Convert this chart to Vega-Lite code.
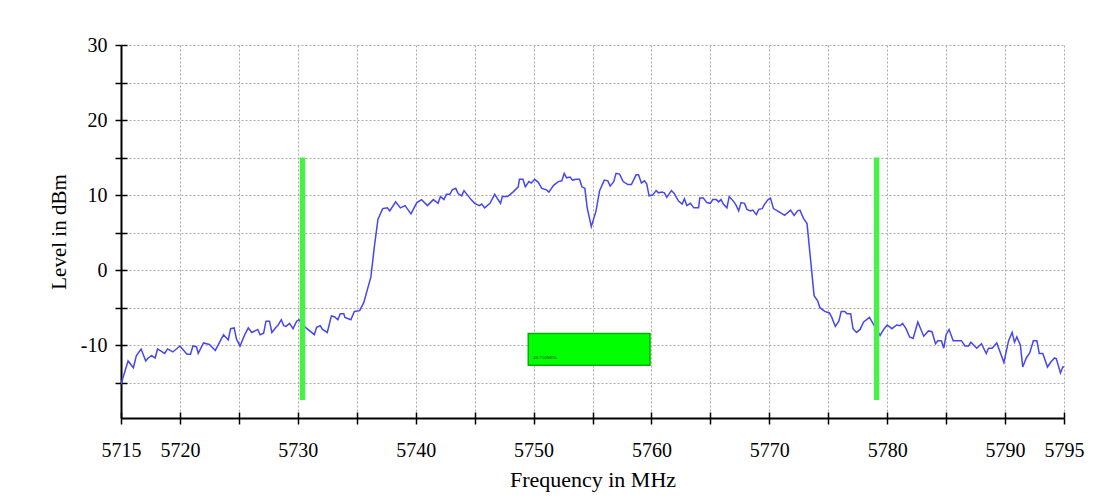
{
  "$schema": "https://vega.github.io/schema/vega-lite/v6.json",
  "width": 943,
  "height": 373,
  "autosize": "none",
  "padding": {"left": 121, "top": 45, "right": 37, "bottom": 78},
  "background": "white",
  "config": {
    "view": {"stroke": null},
    "font": "Liberation Serif",
    "axis": {"labelFont": "Liberation Serif", "titleFont": "Liberation Serif", "labelColor": "black", "titleColor": "black", "titleFontWeight": "normal"}
  },
  "datasets": {
    "trace": [
      {"f":5715.0,"v":-15.2},{"f":5715.6,"v":-12.1},{"f":5716.05,"v":-13.0},{"f":5716.3,"v":-11.4},{"f":5716.7,"v":-10.5},{"f":5717.1,"v":-12.1},{"f":5717.3,"v":-11.7},{"f":5717.6,"v":-11.4},{"f":5717.9,"v":-11.7},{"f":5718.1,"v":-10.5},{"f":5718.4,"v":-10.8},{"f":5718.7,"v":-11.1},{"f":5718.95,"v":-10.5},{"f":5719.4,"v":-10.9},{"f":5720.0,"v":-10.1},{"f":5720.6,"v":-11.2},{"f":5720.9,"v":-11.2},{"f":5721.1,"v":-10.1},{"f":5721.4,"v":-10.2},{"f":5721.55,"v":-11.1},{"f":5722.0,"v":-9.7},{"f":5722.5,"v":-9.9},{"f":5723.0,"v":-10.7},{"f":5723.7,"v":-8.6},{"f":5724.1,"v":-9.3},{"f":5724.3,"v":-7.8},{"f":5724.6,"v":-7.7},{"f":5724.8,"v":-9.2},{"f":5725.1,"v":-10.1},{"f":5725.5,"v":-8.6},{"f":5725.8,"v":-7.7},{"f":5726.1,"v":-8.3},{"f":5726.6,"v":-7.9},{"f":5726.8,"v":-8.6},{"f":5727.1,"v":-8.4},{"f":5727.3,"v":-6.8},{"f":5727.6,"v":-6.8},{"f":5727.8,"v":-8.3},{"f":5728.2,"v":-7.5},{"f":5728.3,"v":-7.4},{"f":5728.6,"v":-6.6},{"f":5728.8,"v":-7.4},{"f":5729.0,"v":-7.5},{"f":5729.3,"v":-7.1},{"f":5729.6,"v":-7.8},{"f":5729.9,"v":-6.8},{"f":5730.1,"v":-6.6},{"f":5730.4,"v":-7.2},{"f":5730.7,"v":-7.7},{"f":5731.4,"v":-8.6},{"f":5731.6,"v":-7.6},{"f":5731.9,"v":-7.4},{"f":5732.1,"v":-7.9},{"f":5732.5,"v":-8.3},{"f":5732.85,"v":-6.1},{"f":5733.1,"v":-6.2},{"f":5733.4,"v":-6.6},{"f":5733.6,"v":-5.8},{"f":5733.9,"v":-5.8},{"f":5734.0,"v":-6.3},{"f":5734.5,"v":-6.6},{"f":5734.8,"v":-5.5},{"f":5735.25,"v":-5.4},{"f":5735.6,"v":-4.3},{"f":5735.9,"v":-2.6},{"f":5736.2,"v":-0.9},{"f":5736.5,"v":3.2},{"f":5736.8,"v":6.8},{"f":5737.2,"v":8.2},{"f":5737.6,"v":8.3},{"f":5737.8,"v":7.9},{"f":5738.3,"v":9.1},{"f":5738.7,"v":8.3},{"f":5739.1,"v":8.6},{"f":5739.6,"v":7.5},{"f":5740.1,"v":9.0},{"f":5740.5,"v":9.4},{"f":5741.0,"v":8.6},
      {"f":5741.5,"v":9.4},{"f":5741.9,"v":8.9},{"f":5742.1,"v":9.8},{"f":5742.4,"v":9.4},{"f":5742.6,"v":10.1},{"f":5742.9,"v":10.1},{"f":5743.1,"v":10.7},{"f":5743.4,"v":10.9},{"f":5743.6,"v":10.2},{"f":5743.9,"v":9.9},{"f":5744.1,"v":10.6},{"f":5744.35,"v":10.1},{"f":5744.7,"v":9.4},{"f":5745.0,"v":8.9},{"f":5745.4,"v":8.6},{"f":5745.6,"v":8.8},{"f":5745.85,"v":8.3},{"f":5746.3,"v":8.9},{"f":5746.7,"v":10.1},{"f":5747.2,"v":8.9},{"f":5747.35,"v":9.8},{"f":5747.8,"v":9.8},{"f":5748.25,"v":10.4},{"f":5748.7,"v":11.1},{"f":5748.8,"v":12.1},{"f":5749.1,"v":12.1},{"f":5749.3,"v":11.1},{"f":5749.6,"v":11.8},{"f":5749.8,"v":11.6},{"f":5750.1,"v":12.1},{"f":5750.4,"v":11.7},{"f":5750.7,"v":10.9},{"f":5751.1,"v":10.7},{"f":5751.3,"v":10.4},{"f":5751.7,"v":11.3},{"f":5752.1,"v":11.8},{"f":5752.4,"v":11.9},{"f":5752.6,"v":12.9},{"f":5752.8,"v":12.3},{"f":5753.1,"v":12.4},{"f":5753.3,"v":12.0},{"f":5753.6,"v":12.1},{"f":5753.9,"v":12.1},{"f":5754.1,"v":11.1},{"f":5754.35,"v":10.9},{"f":5754.55,"v":8.3},{"f":5754.9,"v":5.8},{"f":5755.3,"v":7.9},{"f":5755.6,"v":10.6},{"f":5756.0,"v":12.0},{"f":5756.3,"v":11.9},{"f":5756.5,"v":11.2},{"f":5756.8,"v":11.8},{"f":5757.0,"v":12.9},{"f":5757.3,"v":12.8},{"f":5757.6,"v":11.8},{"f":5758.0,"v":11.4},{"f":5758.3,"v":11.4},{"f":5758.7,"v":12.7},{"f":5758.9,"v":12.7},{"f":5759.15,"v":11.6},{"f":5759.4,"v":11.9},{"f":5759.6,"v":11.5},{"f":5759.8,"v":9.9},{"f":5760.1,"v":10.0},{"f":5760.4,"v":10.6},{"f":5760.6,"v":10.3},{"f":5760.9,"v":10.4},{"f":5761.1,"v":10.3},{"f":5761.3,"v":9.7},{"f":5761.7,"v":10.6},{"f":5761.9,"v":10.3},{"f":5762.3,"v":9.2},{"f":5762.6,"v":8.8},{"f":5762.8,"v":9.5},{"f":5763.0,"v":8.6},{"f":5763.3,"v":8.9},{"f":5763.6,"v":8.3},{"f":5764.0,"v":8.3},{"f":5764.1,"v":9.6},{"f":5764.4,"v":9.6},{"f":5764.7,"v":9.0},{"f":5765.0,"v":8.9},{"f":5765.2,"v":9.4},{"f":5765.5,"v":9.4},{"f":5765.7,"v":9.1},{"f":5765.9,"v":9.4},{"f":5766.1,"v":8.8},{"f":5766.4,"v":8.3},{"f":5766.6,"v":9.8},{"f":5767.0,"v":9.1},{"f":5767.2,"v":8.6},{"f":5767.4,"v":7.9},{"f":5767.6,"v":9.0},{"f":5767.9,"v":8.9},{"f":5768.1,"v":8.1},{"f":5768.4,"v":7.9},{"f":5768.6,"v":8.0},{"f":5768.9,"v":7.4},{"f":5769.1,"v":8.1},{"f":5769.4,"v":8.2},{"f":5769.6,"v":8.8},{"f":5769.9,"v":9.4},{"f":5770.1,"v":9.6},{"f":5770.35,"v":8.2},{"f":5770.8,"v":7.8},
      {"f":5771.3,"v":7.3},{"f":5771.8,"v":8.0},{"f":5772.1,"v":7.3},{"f":5772.4,"v":7.9},{"f":5772.6,"v":8.0},{"f":5772.9,"v":6.9},{"f":5773.2,"v":6.2},{"f":5773.5,"v":1.4},{"f":5773.8,"v":-3.4},{"f":5774.1,"v":-4.1},{"f":5774.3,"v":-5.0},{"f":5774.7,"v":-5.5},{"f":5775.1,"v":-5.7},{"f":5775.3,"v":-6.3},{"f":5775.6,"v":-7.5},{"f":5775.9,"v":-6.8},{"f":5776.1,"v":-5.5},{"f":5776.4,"v":-5.5},{"f":5776.6,"v":-5.8},{"f":5776.9,"v":-5.8},{"f":5777.1,"v":-7.8},{"f":5777.4,"v":-8.3},{"f":5777.7,"v":-7.9},{"f":5778.0,"v":-6.9},{"f":5778.5,"v":-6.3},{"f":5778.9,"v":-7.4},{"f":5779.4,"v":-8.7},{"f":5779.7,"v":-7.9},{"f":5780.0,"v":-7.3},{"f":5780.4,"v":-7.8},{"f":5780.8,"v":-7.3},{"f":5781.1,"v":-7.4},{"f":5781.3,"v":-7.1},{"f":5781.6,"v":-7.8},{"f":5781.9,"v":-8.9},{"f":5782.2,"v":-9.1},{"f":5782.6,"v":-6.9},{"f":5783.1,"v":-8.8},{"f":5783.5,"v":-8.1},{"f":5783.8,"v":-8.2},{"f":5784.1,"v":-9.8},{"f":5784.3,"v":-9.4},{"f":5784.6,"v":-9.4},{"f":5784.8,"v":-10.4},{"f":5785.0,"v":-8.6},{"f":5785.25,"v":-7.9},{"f":5785.6,"v":-9.4},{"f":5786.3,"v":-9.4},{"f":5786.6,"v":-10.1},{"f":5786.9,"v":-10.1},{"f":5787.1,"v":-9.6},{"f":5787.6,"v":-10.4},{"f":5788.0,"v":-9.8},{"f":5788.4,"v":-11.1},{"f":5788.6,"v":-10.4},{"f":5788.9,"v":-10.4},{"f":5789.3,"v":-9.7},{"f":5789.9,"v":-12.3},{"f":5790.3,"v":-9.4},{"f":5790.6,"v":-8.3},{"f":5790.8,"v":-9.6},{"f":5791.0,"v":-8.9},{"f":5791.3,"v":-10.0},{"f":5791.5,"v":-12.9},{"f":5791.8,"v":-11.7},{"f":5792.1,"v":-11.0},{"f":5792.4,"v":-9.4},{"f":5792.7,"v":-9.4},{"f":5792.9,"v":-11.1},{"f":5793.2,"v":-11.1},{"f":5793.6,"v":-12.9},{"f":5793.9,"v":-12.2},{"f":5794.2,"v":-11.7},{"f":5794.35,"v":-11.8},{"f":5794.7,"v":-13.7},{"f":5794.9,"v":-12.9},{"f":5795.0,"v":-12.9}
    ],
    "markers": [
      {"f": 5730.4, "top": 15, "bottom": -17.3},
      {"f": 5779.1, "top": 15, "bottom": -17.3}
    ],
    "box": [
      {"f1": 5749.55, "f2": 5759.88, "v1": -8.44, "v2": -12.67, "label": "48.750MHz", "tf": 5749.95, "tv": -11.6}
    ]
  },
  "layer": [
    {
      "data": {"name": "trace"},
      "mark": {"type": "line", "color": "#4646f2", "strokeWidth": 1.5, "clip": true},
      "encoding": {
        "x": {
          "field": "f", "type": "quantitative",
          "scale": {"domain": [5715, 5795], "nice": false, "zero": false},
          "axis": {
            "orient": "bottom",
            "title": "Frequency in MHz", "titleFontSize": 22, "titlePadding": 9,
            "values": [5715,5720,5725,5730,5735,5740,5745,5750,5755,5760,5765,5770,5775,5780,5785,5790,5795],
            "labelExpr": "indexof([5715,5720,5730,5740,5750,5760,5770,5780,5790,5795], datum.value) >= 0 ? toString(datum.value) : ''",
            "labelFontSize": 20, "labelPadding": 16, "labelFlush": false, "labelOverlap": false,
            "tickSize": 6, "tickColor": "black", "tickWidth": 1.5,
            "domainColor": "black", "domainWidth": 2,
            "grid": true, "gridColor": "#aaaaaa", "gridDash": [2, 2], "gridWidth": 1
          }
        },
        "y": {
          "field": "v", "type": "quantitative",
          "scale": {"domain": [-19.7, 30], "nice": false, "zero": false},
          "axis": {
            "orient": "left",
            "title": "Level in dBm", "titleFontSize": 21, "titlePadding": 11,
            "values": [-15,-10,-5,0,5,10,15,20,25,30],
            "labelExpr": "datum.value % 10 == 0 ? toString(datum.value) : ''",
            "labelFontSize": 20, "labelPadding": 8, "labelOverlap": false,
            "tickSize": 6, "tickColor": "black", "tickWidth": 1.5,
            "domainColor": "black", "domainWidth": 2,
            "grid": true, "gridColor": "#aaaaaa", "gridDash": [2, 2], "gridWidth": 1
          }
        }
      }
    },
    {
      "data": {"name": "markers"},
      "mark": {"type": "rule", "color": "#48f048", "strokeWidth": 5.5},
      "encoding": {
        "x": {
          "field": "f", "type": "quantitative",
          "axis": {
            "orient": "bottom", "title": null, "labels": false, "domain": false, "grid": false,
            "values": [5715,5720,5725,5730,5735,5740,5745,5750,5755,5760,5765,5770,5775,5780,5785,5790,5795],
            "tickSize": -6, "tickColor": "black", "tickWidth": 1.5
          }
        },
        "y": {
          "field": "top", "type": "quantitative",
          "axis": {
            "orient": "left", "title": null, "labels": false, "domain": false, "grid": false,
            "values": [-15,-10,-5,0,5,10,15,20,25,30],
            "tickSize": -6, "tickColor": "black", "tickWidth": 1.5
          }
        },
        "y2": {"field": "bottom"}
      }
    },
    {
      "data": {"name": "box"},
      "mark": {"type": "rect", "fill": "#00ff00", "stroke": "#00b400", "strokeWidth": 1.5},
      "encoding": {
        "x": {"field": "f1", "type": "quantitative", "axis": null},
        "x2": {"field": "f2"},
        "y": {"field": "v1", "type": "quantitative", "axis": null},
        "y2": {"field": "v2"}
      }
    },
    {
      "data": {"name": "box"},
      "mark": {"type": "text", "align": "left", "baseline": "middle", "fontSize": 5, "color": "#224422", "font": "Liberation Serif"},
      "encoding": {
        "x": {"field": "tf", "type": "quantitative", "axis": null},
        "y": {"field": "tv", "type": "quantitative", "axis": null},
        "text": {"field": "label"}
      }
    }
  ],
  "resolve": {"axis": {"x": "independent", "y": "independent"}}
}
